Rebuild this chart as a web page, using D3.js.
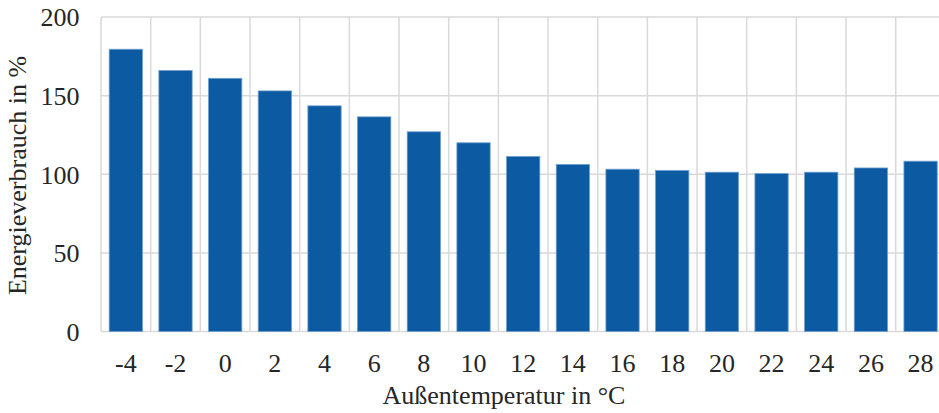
<!DOCTYPE html>
<html><head><meta charset="utf-8">
<script src="https://cdn.jsdelivr.net/npm/d3@7"></script>
<style>body{margin:0;background:#fff;} svg{display:block;}</style>
</head><body>
<svg id="chart" width="939" height="413" font-family="Liberation Serif"></svg>
<script>
const categories = ["-4","-2","0","2","4","6","8","10","12","14","16","18","20","22","24","26","28"];
const values = [179.5,166,161,153,143.5,136.5,127,120,111.3,106.2,103.2,102.4,101.3,100.4,101.3,104,108.3];
const yTicks = [0,50,100,150,200];
const xTitle = "Außentemperatur in °C";
const yTitle = "Energieverbrauch in %";

const FONT = "Liberation Serif";
const textColor = "#262626";
const svg = d3.select("#chart");
const pLeft = 101, pRight = 945.4, pTop = 17, pBottom = 331.5;
const x = d3.scaleBand().domain(categories).range([pLeft, pRight]).paddingInner(0.33).paddingOuter(0.165);
const xg = d3.scaleBand().domain(categories).range([pLeft, pRight]);
const y = d3.scaleLinear().domain([0,200]).range([pBottom, pTop]);

const grid = svg.append("g");
grid.selectAll("line.h").data(yTicks).join("line")
  .attr("x1", pLeft).attr("x2", pRight).attr("y1", d=>y(d)).attr("y2", d=>y(d))
  .attr("stroke","#d9d9d9").attr("stroke-width",1.5);
const vlines = categories.map(c=>xg(c)).concat([pRight]);
grid.selectAll("line.v").data(vlines).join("line")
  .attr("x1", d=>d).attr("x2", d=>d).attr("y1", pTop).attr("y2", pBottom)
  .attr("stroke","#d9d9d9").attr("stroke-width",1.5);

svg.append("g").selectAll("rect").data(values).join("rect")
  .attr("x",(d,i)=>x(categories[i])).attr("width",x.bandwidth())
  .attr("y",d=>y(d)).attr("height",d=>y(0)-y(d))
  .attr("fill","#0B5AA2").attr("stroke","#6f9fd0").attr("stroke-width",0.8);

const yAxis = d3.axisLeft(y).tickValues(yTicks).tickSize(0).tickPadding(0);
const ya = svg.append("g").attr("transform",`translate(79.5,0)`).call(yAxis)
  .attr("font-family",FONT).attr("font-size",26);
ya.select(".domain").remove();
ya.selectAll("text").attr("fill",textColor).attr("dy","0.34em");

const xAxis = d3.axisBottom(xg).tickSize(0).tickPadding(0);
const xa = svg.append("g").attr("transform",`translate(0,${pBottom})`).call(xAxis)
  .attr("font-family",FONT).attr("font-size",26);
xa.select(".domain").remove();
xa.selectAll("text").attr("fill",textColor).attr("dy",null).attr("y",40);

svg.append("text").attr("x",504).attr("y",403.5).attr("text-anchor","middle")
  .attr("font-family",FONT).attr("font-size",26).attr("fill",textColor).text(xTitle);
svg.append("text").attr("transform","translate(26,175.5) rotate(-90)").attr("text-anchor","middle")
  .attr("font-family",FONT).attr("font-size",26).attr("fill",textColor).text(yTitle);
</script>
</body></html>
